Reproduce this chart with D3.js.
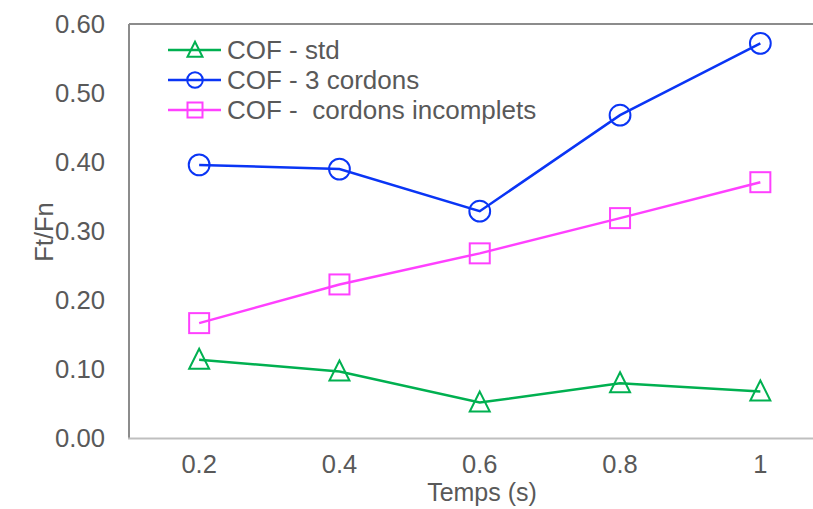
<!DOCTYPE html>
<html><head><meta charset="utf-8">
<script src="https://cdn.jsdelivr.net/npm/d3@7"></script>
<style>body{margin:0;background:#fff}svg{display:block;font-family:"Liberation Sans",Arial,sans-serif}</style>
</head><body><svg id="c" width="813" height="509"></svg>
<script>
const categories = ["0.2","0.4","0.6","0.8","1"];
const cofStd = [0.114, 0.097, 0.052, 0.080, 0.068];
const cof3Cordons = [0.396, 0.390, 0.329, 0.468, 0.572];
const cofIncomplets = [0.167, 0.223, 0.268, 0.319, 0.371];
const yTicks = [0, 0.1, 0.2, 0.3, 0.4, 0.5, 0.6];
const seriesNames = ["COF - std", "COF - 3 cordons", "COF -  cordons incomplets"];

const series = [
  {name: seriesNames[0], values: cofStd, color: "#00B050", sym: "tri"},
  {name: seriesNames[1], values: cof3Cordons, color: "#0A35F5", sym: "circ"},
  {name: seriesNames[2], values: cofIncomplets, color: "#FF40FF", sym: "sq"}
];

const svg = d3.select("#c");
const L = 129, T = 24, B = 438.5;
const x = d3.scaleBand().domain(categories).range([L, L + 701.5]);
const y = d3.scaleLinear().domain([0, 0.6]).range([B, T]);
const txt = "#595959";
const FF = "Liberation Sans, Arial, sans-serif";

// frame
svg.append("line").attr("x1", L).attr("x2", 813).attr("y1", T).attr("y2", T).attr("stroke", "#8c8c8c").attr("stroke-width", 2);
svg.append("line").attr("x1", L).attr("x2", L).attr("y1", T).attr("y2", B).attr("stroke", "#8c8c8c").attr("stroke-width", 2);
svg.append("line").attr("x1", L-1).attr("x2", 813).attr("y1", B).attr("y2", B).attr("stroke", "#bfbfbf").attr("stroke-width", 2);

// y axis labels
const yAxis = d3.axisLeft(y).tickValues(yTicks).tickFormat(d3.format(".2f")).tickSize(0).tickPadding(24);
const gy = svg.append("g").attr("transform", `translate(${L},0)`).call(yAxis);
gy.select(".domain").remove();
gy.selectAll("text").attr("fill", txt).style("font-size", "25.7px").style("font-family", FF);

// x axis labels
const xAxis = d3.axisBottom(x).tickSize(0).tickPadding(16);
const gx = svg.append("g").attr("transform", `translate(0,${B})`).call(xAxis);
gx.select(".domain").remove();
gx.selectAll("text").attr("fill", txt).style("font-size", "25.5px").style("font-family", FF);

// axis titles
svg.append("text").attr("x", 482).attr("y", 501).attr("text-anchor", "middle").attr("fill", txt).style("font-size", "25px").text("Temps (s)");
svg.append("text").attr("transform", "translate(53,232) rotate(-90)").attr("text-anchor", "middle").attr("fill", txt).style("font-size", "25.5px").text("Ft/Fn");

function drawSym(g, sym, cx, cy, color, s) {
  if (sym === "circ") {
    g.append("circle").attr("cx", cx).attr("cy", cy).attr("r", s * 0.52).attr("fill", "none").attr("stroke", color).attr("stroke-width", 2);
  } else if (sym === "sq") {
    g.append("rect").attr("x", cx - s / 2).attr("y", cy - s / 2).attr("width", s).attr("height", s).attr("fill", "none").attr("stroke", color).attr("stroke-width", 2);
  } else {
    g.append("path").attr("d", `M${cx},${cy - s * 0.55}L${cx + s / 2},${cy + s * 0.45}L${cx - s / 2},${cy + s * 0.45}Z`).attr("fill", "none").attr("stroke", color).attr("stroke-width", 2);
  }
}

const cx = c => x(c) + x.bandwidth() / 2;
const line = d3.line().x((d, i) => cx(categories[i])).y(d => y(d));
series.forEach(s => {
  const g = svg.append("g");
  g.append("path").attr("d", line(s.values)).attr("fill", "none").attr("stroke", s.color).attr("stroke-width", 2.5);
  s.values.forEach((v, i) => drawSym(g, s.sym, cx(categories[i]), y(v), s.color, 20));
});

// legend
series.forEach((s, i) => {
  const ly = 50 + i * 30;
  const g = svg.append("g");
  g.append("line").attr("x1", 168).attr("x2", 221).attr("y1", ly).attr("y2", ly).attr("stroke", s.color).attr("stroke-width", 2.5);
  drawSym(g, s.sym, 195, ly, s.color, 15);
  g.append("text").attr("x", 227).attr("y", ly + 9).attr("fill", txt).style("font-size", "26px").style("white-space", "pre").text(s.name);
});
</script></body></html>
